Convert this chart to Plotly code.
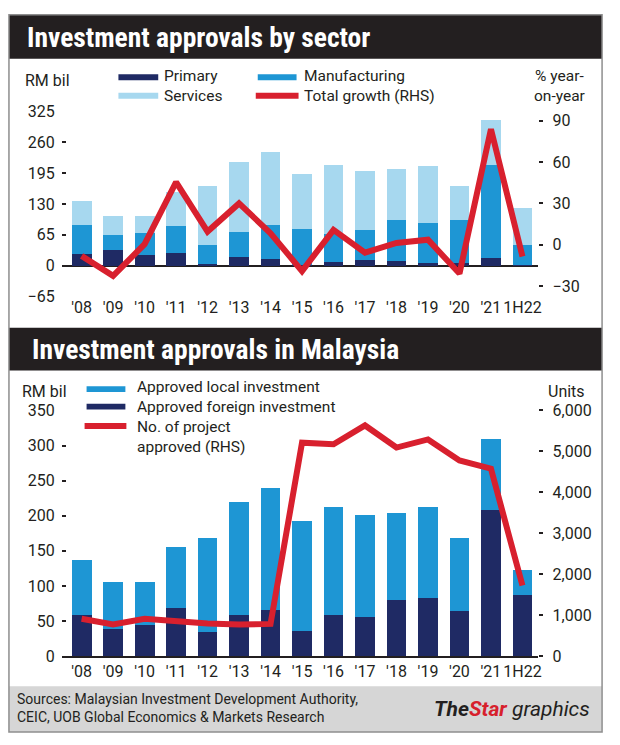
import plotly.graph_objects as go

W, H = 620, 745

# ---------------- data ----------------
categories = ["'08", "'09", "'10", "'11", "'12", "'13", "'14", "'15",
              "'16", "'17", "'18", "'19", "'20", "'21", "1H22"]

# Top chart: investment approvals by sector (RM bil)
primary = [24, 33, 22, 27, 3, 19, 14, 2, 7, 11, 10, 5, 5, 16, 1]
manufacturing = [61, 31, 46, 56, 40, 51, 71, 76, 59, 63, 87, 84, 91, 195, 43]
services = [51, 40, 36, 72, 124, 149, 154, 114, 146, 125, 107, 121, 71, 96, 78]
total_growth = [-8, -22.5, 0.5, 45.4, 9.6, 30, 8.4, -19, 10.8, -5.6, 1.4, 3.7, -20.8, 83.8, -8.4]

# Bottom chart: investment approvals in Malaysia (RM bil) and projects (units)
foreign_inv = [59, 39, 44, 68, 35, 59, 65, 36, 59, 55, 80, 83, 64, 208, 87]
local_inv = [78, 66, 61, 87, 133, 160, 175, 157, 154, 146, 124, 129, 104, 101, 36]
projects = [912, 770, 912, 849, 794, 770, 786, 5214, 5174, 5635, 5095, 5293, 4778, 4579, 1722]

left_ticks_top = [-65, 0, 65, 130, 195, 260, 325]
right_ticks_top = [-30, 0, 30, 60, 90]
left_ticks_bot = [0, 50, 100, 150, 200, 250, 300, 350]
right_ticks_bot = [0, 1000, 2000, 3000, 4000, 5000, 6000]

# ---------------- styling ----------------
NAVY = "#1f2a64"
MID = "#1e96d4"
LIGHT = "#a7d8ef"
RED = "#d8202e"
DARK = "#231f20"
FONT = "Roboto"
COND = "Roboto Condensed, Liberation Sans Narrow, Arial Narrow, DejaVu Sans Condensed, Roboto"


def X(px):
    return px / W


def Y(py):
    return 1 - py / H


fig = go.Figure()

# top bars
fig.add_trace(go.Bar(x=categories, y=primary, marker_color=NAVY, xaxis="x", yaxis="y",
                     marker_line_width=0, showlegend=False))
fig.add_trace(go.Bar(x=categories, y=manufacturing, marker_color=MID, xaxis="x", yaxis="y",
                     marker_line_width=0, showlegend=False))
fig.add_trace(go.Bar(x=categories, y=services, marker_color=LIGHT, xaxis="x", yaxis="y",
                     marker_line_width=0, showlegend=False))
fig.add_trace(go.Scatter(x=categories, y=total_growth, mode="lines", xaxis="x", yaxis="y3",
                         line=dict(color=RED, width=6), showlegend=False))

# bottom bars
fig.add_trace(go.Bar(x=categories, y=foreign_inv, marker_color=NAVY, xaxis="x2", yaxis="y2",
                     marker_line_width=0, showlegend=False))
fig.add_trace(go.Bar(x=categories, y=local_inv, marker_color=MID, xaxis="x2", yaxis="y2",
                     marker_line_width=0, showlegend=False))
fig.add_trace(go.Scatter(x=categories, y=projects, mode="lines", xaxis="x2", yaxis="y4",
                         line=dict(color=RED, width=6), showlegend=False))

xrange = [-0.632, 14.506]
tickfont = dict(family=FONT, size=16, color=DARK)

fig.update_layout(
    width=W, height=H,
    margin=dict(l=0, r=0, t=0, b=0),
    paper_bgcolor="white", plot_bgcolor="rgba(0,0,0,0)",
    barmode="stack", bargap=0.37,
    font=dict(family=FONT, color=DARK),
    xaxis=dict(domain=[X(62), X(541)], range=xrange, anchor="y", showgrid=False,
               showline=False, ticks="", tickfont=tickfont, zeroline=False, tickangle=0),
    yaxis=dict(domain=[Y(295), Y(105)], range=[-65, 325], tickvals=left_ticks_top,
               showgrid=False, ticks="inside", ticklen=4, tickwidth=1.5, tickcolor=DARK,
               tickfont=tickfont, zeroline=True, zerolinecolor=DARK, zerolinewidth=1.5,
               showline=False, anchor="x", ticklabelstandoff=6),
    yaxis3=dict(overlaying="y", side="right", anchor="x", range=[-37.4, 96.7],
                tickvals=right_ticks_top, showgrid=False, zeroline=False, ticks="outside",
                ticklen=4, tickwidth=1.5, tickcolor=DARK, tickfont=tickfont,
                ticklabelstandoff=6),
    xaxis2=dict(domain=[X(62), X(541)], range=xrange, anchor="y2", showgrid=False,
                showline=True, linecolor=DARK, linewidth=1.5, ticks="", tickfont=tickfont,
                zeroline=False, tickangle=0),
    yaxis2=dict(domain=[Y(664), Y(412)], range=[0, 350], tickvals=left_ticks_bot,
                showgrid=False, ticks="inside", ticklen=4, tickwidth=1.5, tickcolor=DARK,
                tickfont=tickfont, zeroline=False, anchor="x2", ticklabelstandoff=6),
    yaxis4=dict(overlaying="y2", side="right", anchor="x2", range=[0, 6000],
                tickvals=right_ticks_bot, tickformat=",", showgrid=False, zeroline=False,
                ticks="outside", ticklen=4, tickwidth=1.5, tickcolor=DARK, tickfont=tickfont,
                ticklabelstandoff=6),
)

shapes = []


def rect(x0, y0, x1, y1, fill, layer="below", line=None):
    d = dict(type="rect", xref="paper", yref="paper", x0=X(x0), x1=X(x1), y0=Y(y1), y1=Y(y0),
             fillcolor=fill, layer=layer)
    d["line"] = line if line else dict(width=0)
    shapes.append(d)


def hline(x0, x1, y, color, width):
    shapes.append(dict(type="line", xref="paper", yref="paper", x0=X(x0), x1=X(x1),
                       y0=Y(y), y1=Y(y), line=dict(color=color, width=width), layer="above"))


# header bands and footer
rect(9, 6, 605, 51, DARK)
rect(9, 327, 605, 371, DARK)
rect(9, 695, 605, 742, "#d6d6d6")
# outer frame
rect(9, 6, 605, 742, "rgba(0,0,0,0)", layer="above", line=dict(color="#8e8e8e", width=1.5))

# top legend swatches
rect(119, 67, 159, 73, NAVY, layer="above")
rect(119, 86, 159, 92, LIGHT, layer="above")
rect(259, 67, 298, 73, MID, layer="above")
hline(257, 300, 89, RED, 6)
# bottom legend swatches
rect(87, 387, 126, 393, MID, layer="above")
rect(87, 405, 126, 411, NAVY, layer="above")
hline(85, 127, 428, RED, 6)

fig.update_layout(shapes=shapes)

ann = []


def text(x, y, s, size=16, xanchor="left", color=DARK, family=FONT, weight=None, align="left"):
    f = dict(family=family, size=size, color=color)
    if weight:
        f["weight"] = weight
    ann.append(dict(xref="paper", yref="paper", x=X(x), y=Y(y), text=s, showarrow=False,
                    xanchor=xanchor, yanchor="middle", font=f, align=align))


text(25, 29, "Investment approvals by sector", size=27.5, color="white", family=COND, weight="bold")
text(30, 349, "Investment approvals in Malaysia", size=27.5, color="white", family=COND, weight="bold")

LS = 15.5
text(23, 73, "RM bil", size=16)
text(163, 79, "Primary<br>Services", size=LS)
text(303, 79, "Manufacturing<br>Total growth (RHS)", size=LS)
text(563, 79, "% year-<br>on-year", size=LS, xanchor="center", align="center")

text(20, 393, "RM bil", size=16)
text(136, 419, "Approved local investment<br>Approved foreign investment<br>"
               "No. of project<br>approved (RHS)", size=LS)
text(590, 392, "Units", size=16, xanchor="right")

text(15, 717, "Sources: Malaysian Investment Development Authority,<br>"
              "CEIC, UOB Global Economics &amp; Markets Research", size=14)
text(595, 718,
     "<i><b>The</b><b><span style='color:#d7202c'>Star</span></b> graphics</i>",
     size=21, xanchor="right")

fig.update_layout(annotations=ann)

fig.write_html("out.html")
